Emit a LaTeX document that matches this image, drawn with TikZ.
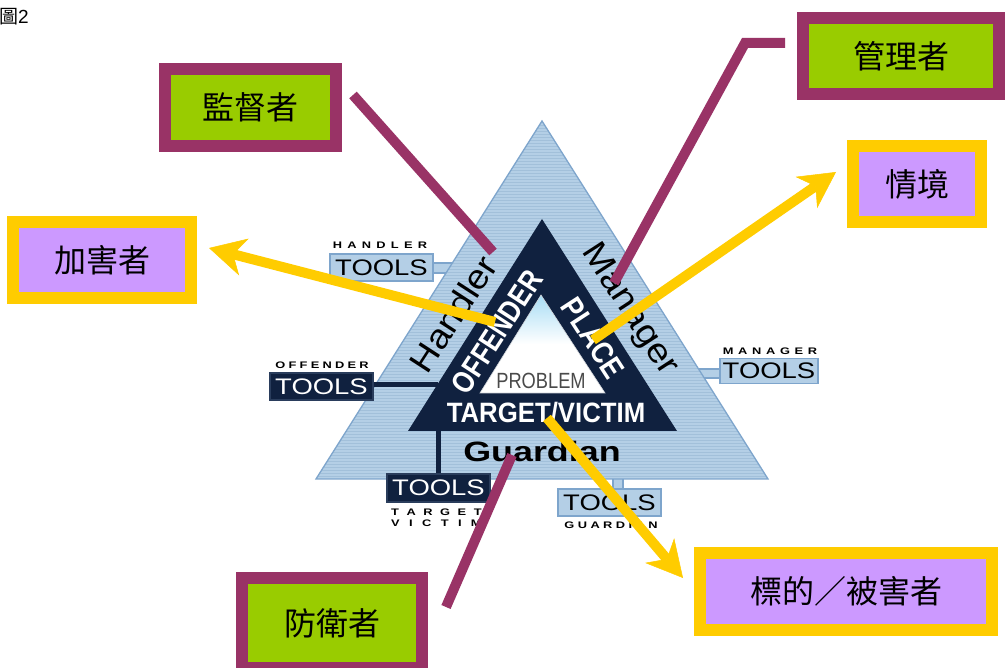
\documentclass[tikz,border=0pt]{standalone}
\usepackage{fontspec}
\setmainfont{Liberation Sans}
\newfontfamily\cjk{Noto Sans CJK TC}
\usetikzlibrary{arrows.meta}
\definecolor{pur}{HTML}{993366}
\definecolor{grn}{HTML}{99CC00}
\definecolor{yel}{HTML}{FFCC00}
\definecolor{lil}{HTML}{CC99FF}
\definecolor{tfill}{HTML}{B4CFE6}
\definecolor{tstripe}{HTML}{A2C0DA}
\definecolor{tbord}{HTML}{7EA5CC}
\definecolor{navy}{HTML}{10213F}
\definecolor{navyb}{HTML}{2A3D5C}
\definecolor{skyt}{HTML}{A8DDF5}
\definecolor{probg}{HTML}{4A4A4A}
\newcommand{\spreadtext}[2]{\scalebox{1.35}[1]{\makebox[#1][s]{#2}}}
\newcommand{\lowered}[1]{\raisebox{-4pt}{#1}}
\begin{document}
\begin{tikzpicture}[x=1pt,y=-1pt,
  callP/.style={draw=pur, fill=grn, line width=12pt, inner sep=0pt, font=\cjk\fontsize{32}{38}\selectfont},
  callY/.style={draw=yel, fill=lil, line width=12pt, inner sep=0pt, font=\cjk\fontsize{32}{38}\selectfont},
  purline/.style={draw=pur, line width=10pt},
  yarrow/.style={draw=yel, line width=10pt, -{Stealth[length=36pt,width=38pt,inset=11pt,line width=0.5pt]}},
  ltbox/.style={draw=tbord, fill=tfill, line width=1.2pt, inner sep=0pt, minimum width=103pt, minimum height=27pt, text=black, font=\fontsize{22.5}{22.5}\selectfont},
  dkbox/.style={draw=navyb, fill=navy, line width=1.2pt, inner sep=0pt, minimum width=103pt, minimum height=27pt, text=white, font=\fontsize{22.5}{22.5}\selectfont},
  spaced/.style={inner sep=0pt, font=\bfseries\fontsize{9.5}{10}\selectfont},
  sidelab/.style={inner sep=0pt, font=\fontsize{34}{34}\selectfont},
  innerlab/.style={inner sep=0pt, text=white, font=\bfseries\fontsize{31}{31}\selectfont},
  tabfill/.style={fill=tfill},
  tabline/.style={draw=tbord, line width=1.2pt},
  darkline/.style={draw=navy, line width=5pt}
]
\useasboundingbox (0,0) rectangle (1005,668);
\fill[white] (0,0) rectangle (1005,668);

% figure label
\node[inner sep=0pt, anchor=west, font=\fontsize{19}{19}\selectfont] (fig) at (-1,17) {{\cjk 圖}2};

% tabs joining tool boxes to the outer triangle
\fill[tabfill] (433,263) -- (453,263) -- (447,273) -- (433,273) -- cycle;
\draw[tabline] (433,263) -- (453,263);
\draw[tabline] (433,273) -- (447,273);
\fill[tabfill] (698,369) -- (721,369) -- (721,378) -- (704,378) -- cycle;
\draw[tabline] (698,369) -- (721,369);
\draw[tabline] (704,378) -- (721,378);
\fill[tabfill] (613,478) -- (623,478) -- (623,490) -- (613,490) -- cycle;
\draw[tabline] (613,478) -- (613,490);
\draw[tabline] (623,478) -- (623,490);

% outer triangle with stripes
\fill[tfill] (316,479) -- (542,121) -- (768,479) -- cycle;
\begin{scope}
  \clip (316,479) -- (542,121) -- (768,479) -- cycle;
  \foreach \yy in {122,125,...,479} \draw[tstripe, line width=0.8pt] (316,\yy) -- (768,\yy);
\end{scope}
\draw[tbord, line width=1.3pt, line join=miter] (316,479) -- (542,121) -- (768,479) -- cycle;

% dark connectors to dark tool boxes
\draw[darkline] (372,385) -- (438,385);
\draw[darkline] (438,430) -- (438,475);

% inner dark triangle
\fill[navy] (542,219) -- (408,431) -- (677,431) -- cycle;
% innermost problem triangle
\shade[top color=skyt, bottom color=white, middle color=white] (541,295) -- (480,393) -- (605,393) -- cycle;
\draw[white!80!navy, line width=0.6pt] (541,295) -- (480,393) -- (605,393) -- cycle;

% tool boxes
\node[ltbox] (htools) at (381.5,267.5) {\scalebox{1.22}[1]{TOOLS}};
\node[dkbox] (otools) at (321.5,386.5) {\scalebox{1.22}[1]{TOOLS}};
\node[ltbox, minimum width=98pt, minimum height=25pt] (mtools) at (769,371) {\scalebox{1.22}[1]{TOOLS}};
\node[dkbox, minimum height=28pt] (ttools) at (438.5,488) {\scalebox{1.22}[1]{TOOLS}};
\node[ltbox] (gtools) at (609.5,502.5) {\scalebox{1.22}[1]{TOOLS}};

% spaced captions
\node[spaced] (hlab) at (380,245) {\spreadtext{70pt}{H\hfill A\hfill N\hfill D\hfill L\hfill E\hfill R}};
\node[spaced] (olab) at (322,365) {\spreadtext{69pt}{O\hfill F\hfill F\hfill E\hfill N\hfill D\hfill E\hfill R}};
\node[spaced] (mlab) at (770,351) {\spreadtext{70pt}{M\hfill A\hfill N\hfill A\hfill G\hfill E\hfill R}};
\node[spaced, anchor=west] (tlab) at (391,512) {\spreadtext{67pt}{T\hfill A\hfill R\hfill G\hfill E\hfill T}};
\node[spaced, anchor=west] (vlab) at (391,523) {\spreadtext{67pt}{V\hfill I\hfill C\hfill T\hfill I\hfill M}};
\node[spaced] (glab) at (611,525) {\spreadtext{69pt}{G\hfill U\hfill A\hfill R\hfill D\hfill I\hfill A\hfill N}};

% triangle texts
\node[sidelab, rotate=57] (handler) at (453,314) {\scalebox{1.1}[1]{Handler}};
\node[sidelab, rotate=-57] (manager) at (629,310) {\scalebox{1.12}[1]{Manager}};
\node[inner sep=0pt, font=\bfseries\fontsize{28}{28}\selectfont] (guardian) at (542,451) {\scalebox{1.28}[1]{Guardian}};
\node[innerlab, rotate=57] (offender) at (497,332) {\scalebox{0.82}[1]{OFFENDER}};
\node[innerlab, rotate=-57] (place) at (593,338) {\scalebox{0.85}[1]{PLACE}};
\node[inner sep=0pt, text=white, font=\bfseries\fontsize{28}{28}\selectfont] (target) at (546,413) {\scalebox{0.92}[1]{TARGET/VICTIM}};
\node[inner sep=0pt, text=probg, font=\fontsize{22}{22}\selectfont] (problem) at (541,381) {\scalebox{0.83}[1]{PROBLEM}};

% callout boxes
\node[callP, minimum width=171pt, minimum height=77pt] (sup) at (250.5,107.5) {\lowered{監督者}};
\node[callP, minimum width=196pt, minimum height=76pt] (mgr) at (901,56) {\lowered{管理者}};
\node[callY, minimum width=128pt, minimum height=76pt] (sit) at (917,184) {\lowered{情境}};
\node[callY, minimum width=178pt, minimum height=76pt] (off) at (102,260) {\lowered{加害者}};
\node[callP, minimum width=180pt, minimum height=90pt] (grd) at (332,623) {\raisebox{2pt}{防衛者}};
\node[callY, minimum width=292pt, minimum height=77pt] (vic) at (846,591.5) {\lowered{標的／被害者}};

% connector end points
\coordinate (supA) at (353,95);
\coordinate (supB) at (493,252);
\coordinate (mgrA) at (785,43);
\coordinate (mgrK) at (745,43);
\coordinate (mgrB) at (614,283);
\coordinate (grdA) at (512,455);
\coordinate (grdB) at (446,607);
\coordinate (offA) at (495,322);
\coordinate (offB) at (209,248);
\coordinate (sitA) at (593,340);
\coordinate (sitB) at (836,172);
\coordinate (vicA) at (547,418);
\coordinate (vicB) at (683,578);

% purple connectors
\draw[purline] (supA) -- (supB);
\draw[purline, line join=miter] (mgrA) -- (mgrK) -- (mgrB);
\draw[purline] (grdA) -- (grdB);

% yellow arrows
\draw[yarrow] (offA) -- (offB);
\draw[yarrow] (sitA) -- (sitB);
\draw[yarrow] (vicA) -- (vicB);
\end{tikzpicture}
\end{document}
